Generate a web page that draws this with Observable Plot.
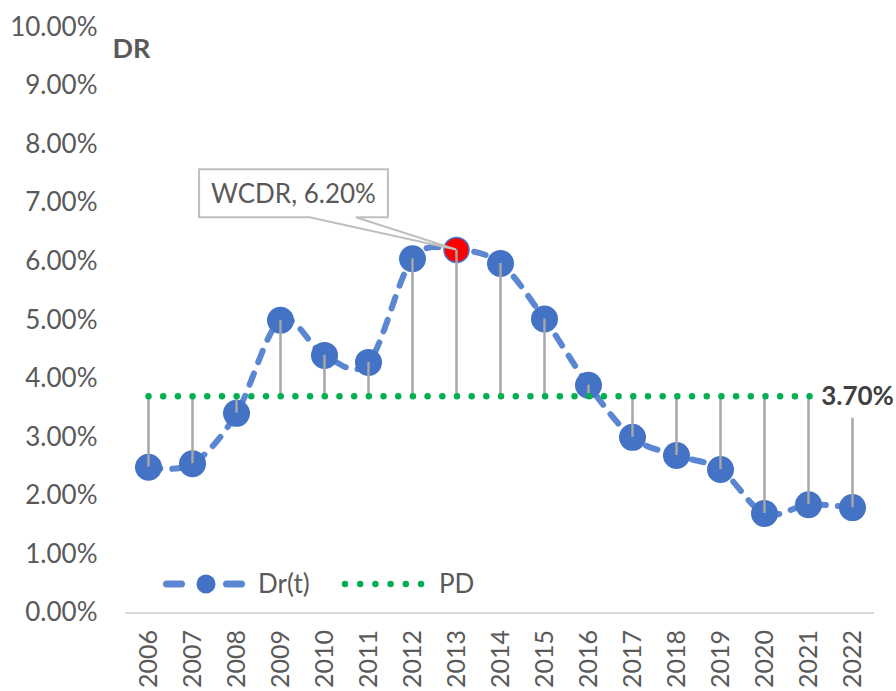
<!DOCTYPE html>
<html><head><meta charset="utf-8">
<script src="https://cdn.jsdelivr.net/npm/d3@7"></script>
<script src="https://cdn.jsdelivr.net/npm/@observablehq/plot@0.6"></script>
<style>
  html,body{margin:0;padding:0;background:#fff;overflow:hidden}
  #chart svg{display:block}
</style>
</head><body><div id="chart"></div>
<script>
// ---- data ----
const years = ["2006","2007","2008","2009","2010","2011","2012","2013","2014","2015","2016","2017","2018","2019","2020","2021","2022"];
const drValues = [0.0249,0.0255,0.0341,0.0500,0.0440,0.0428,0.0605,0.0620,0.0597,0.0502,0.0389,0.0300,0.0269,0.0245,0.0170,0.0185,0.0180];
const pdValue = 0.037;
const wcdrYear = "2013";
const yTicks = [0,0.01,0.02,0.03,0.04,0.05,0.06,0.07,0.08,0.09,0.10];
const seriesNames = ["Dr(t)","PD"];
const yTitle = "DR";
const wcdrName = "WCDR";

// ---- styling ----
const FONT = "Lato, 'Open Sans', sans-serif";
const BLUE = "#4472C4", LINEBLUE = "#5B86D1", GREEN = "#00B050", GREY = "#A6A6A6", TXT = "#595959";
const fmt = d3.format(".2%");

const data = years.map((year, i) => ({year, dr: drValues[i], pd: pdValue}));
const isW = d => d.year === wcdrYear;

const chart = Plot.plot({
  width: 896, height: 691,
  marginLeft: 125, marginRight: 22, marginTop: 27, marginBottom: 78.5,
  style: {fontFamily: FONT, background: "white", color: TXT, overflow: "visible"},
  x: {type: "band", domain: years, padding: 0},
  y: {domain: [0, 0.1]},
  marks: [
    Plot.ruleY([0], {stroke: "#D9D9D9", strokeWidth: 2}),
    Plot.axisY({ticks: yTicks, tickFormat: fmt, tickSize: 0, tickPadding: 28, fontSize: 26, label: null}),
    Plot.axisX({tickRotate: -90, tickSize: 0, tickPadding: 17, fontSize: 25, label: null}),
    Plot.line(data, {x: "year", y: "dr", stroke: LINEBLUE, strokeWidth: 6, strokeDasharray: "12 12", strokeLinecap: "round", curve: "cardinal"}),
    Plot.dot(data.filter(d => !isW(d)), {x: "year", y: "dr", r: 13.5, fill: BLUE}),
    Plot.dot(data.filter(isW), {x: "year", y: "dr", r: 12.5, fill: "#FF0000", stroke: BLUE, strokeWidth: 1.5}),
    Plot.ruleX(data, {x: "year", y1: "pd", y2: "dr", stroke: GREY, strokeWidth: 2.5}),
    Plot.line(data, {x: "year", y: "pd", stroke: GREEN, strokeWidth: 6.5, strokeDasharray: "0 14.69", strokeLinecap: "round"}),
    Plot.text(data.slice(-1), {x: "year", y: "pd", text: d => fmt(d.pd), fontWeight: "bold", fontSize: 26, fill: "#404040", dx: 5, className: "pd-label"}),
    Plot.text(data.filter(isW), {x: "year", y: "dr", text: d => `${wcdrName}, ${fmt(d.dr)}`, dx: -163, dy: -55, fontSize: 26, fill: TXT, className: "wcdr-label"}),
    Plot.text([yTitle], {frameAnchor: "top-left", dx: 6, dy: 11, textAnchor: "middle", fontWeight: "bold", fontSize: 27, fill: TXT})
  ]
});
document.getElementById("chart").appendChild(chart);

// ---- post-render decorations (boxes, callout, legend) ----
const svg = d3.select(chart);
const sRect = chart.getBoundingClientRect();
function box(node) {
  const r = node.getBoundingClientRect();
  return {x: r.left - sRect.left, y: r.top - sRect.top, w: r.width, h: r.height};
}
const xs = chart.scale("x"), ys = chart.scale("y");
const xc = y => xs.apply(y) + xs.bandwidth / 2;
const NS = "http://www.w3.org/2000/svg";

// PD label white background
try {
  const t = chart.querySelector(".pd-label text");
  const b = box(t);
  const g = t.parentNode;
  const rect = document.createElementNS(NS, "rect");
  d3.select(rect).attr("x", b.x - 4).attr("y", b.y - 6).attr("width", b.w + 8).attr("height", b.h + 13).attr("fill", "white");
  chart.insertBefore(rect, g);
} catch (e) { console.error(e); }

// WCDR callout
try {
  const t = chart.querySelector(".wcdr-label text");
  const b = box(t);
  const g = t.parentNode;
  const bx = b.x - 12, by = b.y - 8, bw = b.w + 24, bh = b.h + 16;
  const tipX = xc(wcdrYear), tipY = ys.apply(drValues[years.indexOf(wcdrYear)]);
  const p1 = bx + bw * 0.585, p2 = bx + bw * 0.83, bot = by + bh;
  const grp = document.createElementNS(NS, "g");
  const gs = d3.select(grp);
  gs.append("rect").attr("x", bx).attr("y", by).attr("width", bw).attr("height", bh).attr("fill", "white");
  gs.append("path")
    .attr("d", `M${p1},${bot}H${bx}V${by}H${bx + bw}V${bot}H${p2}L${tipX},${tipY}L${p1},${bot}`)
    .attr("fill", "none").attr("stroke", "#BFBFBF").attr("stroke-width", 2).attr("stroke-linejoin", "miter");
  chart.insertBefore(grp, g);
} catch (e) { console.error(e); }

// Legend
{
  const L = xs.range[0];
  const ly = ys.range[0] - 28.5;
  const lg = svg.append("g").attr("font-family", FONT).attr("font-size", 26).attr("fill", TXT).attr("text-anchor", "start");
  lg.append("line").attr("x1", L + 41.5).attr("x2", L + 56.5).attr("y1", ly).attr("y2", ly)
    .attr("stroke", LINEBLUE).attr("stroke-width", 7).attr("stroke-linecap", "round");
  lg.append("line").attr("x1", L + 101.5).attr("x2", L + 116.5).attr("y1", ly).attr("y2", ly)
    .attr("stroke", LINEBLUE).attr("stroke-width", 7).attr("stroke-linecap", "round");
  lg.append("circle").attr("cx", L + 81).attr("cy", ly).attr("r", 9.5).attr("fill", BLUE);
  lg.append("text").attr("x", L + 133).attr("y", ly + 9).text(seriesNames[0]);
  lg.append("line").attr("x1", L + 220).attr("x2", L + 296.5).attr("y1", ly).attr("y2", ly)
    .attr("stroke", GREEN).attr("stroke-width", 6.5).attr("stroke-dasharray", "0 15.2").attr("stroke-linecap", "round");
  lg.append("text").attr("x", L + 314).attr("y", ly + 9).text(seriesNames[1]);
}
</script>
</body></html>
